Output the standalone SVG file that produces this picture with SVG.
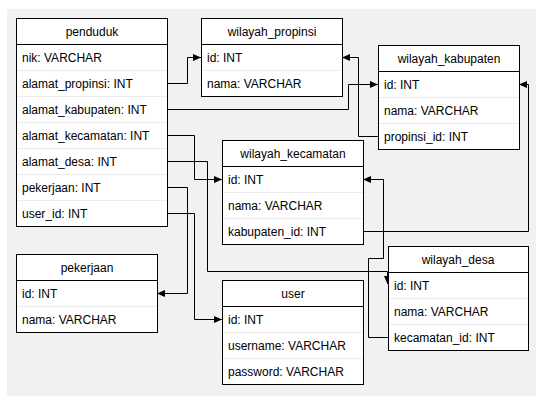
<svg xmlns="http://www.w3.org/2000/svg" width="537" height="396" viewBox="0 0 537 396">
<style>
.box{fill:#fff;stroke:#000;stroke-width:1}
.hl{stroke:#000;stroke-width:1}
.sep{stroke:#ececec;stroke-width:1}
.h{font-family:"Liberation Sans",Arial,sans-serif;font-size:12px;fill:#000;text-anchor:middle}
.t{font-family:"Liberation Sans",Arial,sans-serif;font-size:12px;fill:#000}
.c{fill:none;stroke:#000;stroke-width:1}
</style>
<defs>
<marker id="arr" markerUnits="userSpaceOnUse" markerWidth="10" markerHeight="10" refX="8" refY="3.5" orient="auto">
<path d="M0,0 L8,3.5 L0,7 z" fill="#000"/>
</marker>
</defs>
<rect x="7" y="9" width="529" height="387" fill="#f1f1f1"/>

<g id="connectors">
<path class="c" d="M167,83.5 H187.5 V57.5 H201" marker-end="url(#arr)"/>
<path class="c" d="M167,109.5 H348.5 V84.5 H378" marker-end="url(#arr)"/>
<path class="c" d="M378,136.5 H358.5 V57.5 H342" marker-end="url(#arr)"/>
<path class="c" d="M167,135.5 H194.5 V179.5 H222" marker-end="url(#arr)"/>
<path class="c" d="M167,161.5 H207.5 V271.5 H387.5 V284" marker-end="url(#arr)"/>
<path class="c" d="M388,337.5 H368.5 V258.5 H383.5 V179.5 H363" marker-end="url(#arr)"/>
<path class="c" d="M363,231.5 H528.5 V84.5 H519" marker-end="url(#arr)"/>
<path class="c" d="M167,187.5 H187.5 V293.5 H157" marker-end="url(#arr)"/>
<path class="c" d="M167,213.5 H194.5 V319.5 H222" marker-end="url(#arr)"/>
</g>

<g id="penduduk">
<rect class="box" x="16.5" y="18.5" width="151" height="208"/>
<line class="hl" x1="16.5" y1="44.5" x2="167.5" y2="44.5"/>
<line class="sep" x1="17" y1="70.5" x2="167" y2="70.5"/>
<line class="sep" x1="17" y1="96.5" x2="167" y2="96.5"/>
<line class="sep" x1="17" y1="122.5" x2="167" y2="122.5"/>
<line class="sep" x1="17" y1="148.5" x2="167" y2="148.5"/>
<line class="sep" x1="17" y1="174.5" x2="167" y2="174.5"/>
<line class="sep" x1="17" y1="200.5" x2="167" y2="200.5"/>
<text class="h" x="92" y="36">penduduk</text>
<text class="t" x="22" y="62">nik: VARCHAR</text>
<text class="t" x="22" y="88">alamat_propinsi: INT</text>
<text class="t" x="22" y="114">alamat_kabupaten: INT</text>
<text class="t" x="22" y="140">alamat_kecamatan: INT</text>
<text class="t" x="22" y="166">alamat_desa: INT</text>
<text class="t" x="22" y="192">pekerjaan: INT</text>
<text class="t" x="22" y="218">user_id: INT</text>
</g>

<g id="wilayah_propinsi">
<rect class="box" x="201.5" y="18.5" width="141" height="78"/>
<line class="hl" x1="201.5" y1="44.5" x2="342.5" y2="44.5"/>
<line class="sep" x1="202" y1="70.5" x2="342" y2="70.5"/>
<text class="h" x="272" y="36">wilayah_propinsi</text>
<text class="t" x="207" y="62">id: INT</text>
<text class="t" x="207" y="88">nama: VARCHAR</text>
</g>

<g id="wilayah_kabupaten">
<rect class="box" x="378.5" y="45.5" width="141" height="104"/>
<line class="hl" x1="378.5" y1="71.5" x2="519.5" y2="71.5"/>
<line class="sep" x1="379" y1="97.5" x2="519" y2="97.5"/>
<line class="sep" x1="379" y1="123.5" x2="519" y2="123.5"/>
<text class="h" x="449" y="63">wilayah_kabupaten</text>
<text class="t" x="384" y="89">id: INT</text>
<text class="t" x="384" y="115">nama: VARCHAR</text>
<text class="t" x="384" y="141">propinsi_id: INT</text>
</g>

<g id="wilayah_kecamatan">
<rect class="box" x="222.5" y="140.5" width="141" height="104"/>
<line class="hl" x1="222.5" y1="166.5" x2="363.5" y2="166.5"/>
<line class="sep" x1="223" y1="192.5" x2="363" y2="192.5"/>
<line class="sep" x1="223" y1="218.5" x2="363" y2="218.5"/>
<text class="h" x="293" y="158">wilayah_kecamatan</text>
<text class="t" x="228" y="184">id: INT</text>
<text class="t" x="228" y="210">nama: VARCHAR</text>
<text class="t" x="228" y="236">kabupaten_id: INT</text>
</g>

<g id="wilayah_desa">
<rect class="box" x="388.5" y="246.5" width="140" height="104"/>
<line class="hl" x1="388.5" y1="272.5" x2="528.5" y2="272.5"/>
<line class="sep" x1="389" y1="298.5" x2="528" y2="298.5"/>
<line class="sep" x1="389" y1="324.5" x2="528" y2="324.5"/>
<text class="h" x="458" y="264">wilayah_desa</text>
<text class="t" x="394" y="290">id: INT</text>
<text class="t" x="394" y="316">nama: VARCHAR</text>
<text class="t" x="394" y="342">kecamatan_id: INT</text>
</g>

<g id="pekerjaan">
<rect class="box" x="16.5" y="254.5" width="141" height="78"/>
<line class="hl" x1="16.5" y1="280.5" x2="157.5" y2="280.5"/>
<line class="sep" x1="17" y1="306.5" x2="157" y2="306.5"/>
<text class="h" x="87" y="272">pekerjaan</text>
<text class="t" x="22" y="298">id: INT</text>
<text class="t" x="22" y="324">nama: VARCHAR</text>
</g>

<g id="user">
<rect class="box" x="222.5" y="280.5" width="141" height="104"/>
<line class="hl" x1="222.5" y1="306.5" x2="363.5" y2="306.5"/>
<line class="sep" x1="223" y1="332.5" x2="363" y2="332.5"/>
<line class="sep" x1="223" y1="358.5" x2="363" y2="358.5"/>
<text class="h" x="293" y="298">user</text>
<text class="t" x="228" y="324">id: INT</text>
<text class="t" x="228" y="350">username: VARCHAR</text>
<text class="t" x="228" y="376">password: VARCHAR</text>
</g>
</svg>
